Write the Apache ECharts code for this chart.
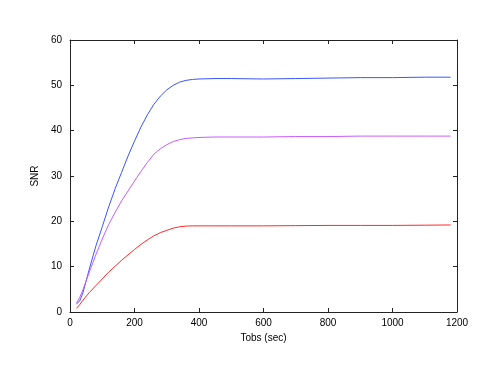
<!DOCTYPE html>
<html>
<head>
<meta charset="utf-8">
<script src="https://cdn.jsdelivr.net/npm/echarts@6/dist/echarts.min.js"></script>
<style>
  html, body { margin: 0; padding: 0; background: #fff; }
  #chart { width: 485px; height: 374px; }
</style>
</head>
<body>
<div id="chart"></div>
<script>
// observation time (sec)
const tobs = [20, 30, 40, 60, 80, 100, 120, 140, 160, 180, 200, 220, 240, 260, 280, 300,
  320, 340, 360, 380, 400, 450, 500, 600, 700, 800, 900, 1000, 1100, 1180]

const snrBlue = [1.8, 2.4, 4.2, 9.5, 14.5, 18.8, 23.2, 27.2, 30.8, 34.4, 37.7, 40.8, 43.5, 45.8, 47.6, 49.0,
  50.0, 50.7, 51.1, 51.3, 51.4, 51.5, 51.5, 51.4, 51.5, 51.6, 51.7, 51.7, 51.8, 51.8]

const snrMagenta = [1.9, 3.2, 4.9, 8.8, 12.6, 16.1, 19.3, 22.0, 24.5, 26.7, 28.9, 31.0, 33.0, 34.8, 36.0, 36.9,
  37.6, 38.0, 38.3, 38.4, 38.5, 38.6, 38.6, 38.6, 38.7, 38.7, 38.8, 38.8, 38.8, 38.8]

const snrRed = [0.8, 1.6, 2.6, 4.3, 5.8, 7.3, 8.8, 10.1, 11.4, 12.6, 13.8, 14.9, 15.9, 16.8, 17.5, 18.0,
  18.5, 18.8, 18.95, 19.0, 19.0, 19.0, 19.0, 19.0, 19.05, 19.1, 19.1, 19.1, 19.15, 19.2]

const font = 'Liberation Sans, Arial, sans-serif'
const axisLine = { show: true, onZero: false, lineStyle: { color: '#222', width: 1 } }
const tick = { show: true, inside: true, length: 4, lineStyle: { color: '#222' } }
const label = { color: '#000', fontSize: 10, fontFamily: font, formatter: (v) => String(v) }

function line(values, color) {
  return {
    type: 'line',
    data: tobs.map((t, i) => [t, values[i]]),
    showSymbol: false,
    smooth: false,
    lineStyle: { color: color, width: 1 },
    itemStyle: { color: color },
    animation: false,
  }
}

const chart = echarts.init(document.getElementById('chart'))
chart.setOption({
  backgroundColor: '#fff',
  animation: false,
  grid: { left: 70, right: 28, top: 40, bottom: 62 },
  xAxis: [
    {
      type: 'value', min: 0, max: 1200, interval: 200,
      name: 'Tobs (sec)', nameLocation: 'middle', nameGap: 16,
      nameTextStyle: { color: '#000', fontSize: 10, fontFamily: font },
      axisLine, axisTick: tick,
      axisLabel: { ...label, margin: 6 },
      splitLine: { show: false },
    },
    {
      type: 'value', position: 'top', min: 0, max: 1200, interval: 200,
      axisLine, axisTick: tick, axisLabel: { show: false }, splitLine: { show: false },
    },
  ],
  yAxis: [
    {
      type: 'value', min: 0, max: 60, interval: 10,
      name: 'SNR', nameLocation: 'middle', nameGap: 28,
      nameTextStyle: { color: '#000', fontSize: 10, fontFamily: font },
      axisLine, axisTick: tick,
      axisLabel: { ...label, margin: 8 },
      splitLine: { show: false },
    },
    {
      type: 'value', position: 'right', min: 0, max: 60, interval: 10,
      axisLine, axisTick: tick, axisLabel: { show: false }, splitLine: { show: false },
    },
  ],
  series: [
    line(snrBlue, '#3b55ff'),
    line(snrMagenta, '#c85cff'),
    line(snrRed, '#ff2a2a'),
  ],
})
</script>
</body>
</html>
